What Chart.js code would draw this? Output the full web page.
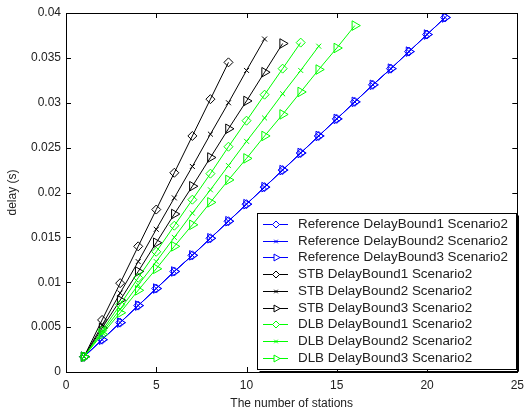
<!DOCTYPE html>
<html>
<head>
<meta charset="utf-8">
<script src="https://cdn.jsdelivr.net/npm/chart.js@4/dist/chart.umd.min.js"></script>
<style>
  html, body { margin: 0; padding: 0; background: #fff; }
</style>
</head>
<body>
<canvas id="delayChart" width="530" height="411"></canvas>
<script>
//================= Data =================//
var stations = [1, 2, 3, 4, 5, 6, 7, 8, 9, 10, 11, 12, 13, 14, 15, 16, 17, 18, 19, 20, 21];

var refBound1 = [0.0017, 0.0036, 0.0055, 0.0074, 0.0093, 0.0112, 0.0130, 0.0149, 0.0168, 0.0187, 0.0206,
                 0.0225, 0.0244, 0.0263, 0.0282, 0.0301, 0.0320, 0.0338, 0.0357, 0.0376, 0.0395];
var refBound2 = [0.0017, 0.0036, 0.0055, 0.0074, 0.0093, 0.0112, 0.0130, 0.0149, 0.0168, 0.0187, 0.0206,
                 0.0225, 0.0244, 0.0263, 0.0282, 0.0301, 0.0320, 0.0338, 0.0357, 0.0376, 0.0395];
var refBound3 = [0.0017, 0.0036, 0.0055, 0.0074, 0.0093, 0.0112, 0.0130, 0.0149, 0.0168, 0.0187, 0.0206,
                 0.0225, 0.0244, 0.0263, 0.0282, 0.0301, 0.0320, 0.0338, 0.0357, 0.0376, 0.0395];
var stbBound1 = [0.0017, 0.0058, 0.0099, 0.0140, 0.0181, 0.0222, 0.0263, 0.0304, 0.0345];
var stbBound2 = [0.0017, 0.0052, 0.0088, 0.0123, 0.0159, 0.0194, 0.0229, 0.0265, 0.0300, 0.0336, 0.0371];
var stbBound3 = [0.0017, 0.0049, 0.0080, 0.0112, 0.0144, 0.0176, 0.0207, 0.0239, 0.0271, 0.0302, 0.0334, 0.0366];
var dlbBound1 = [0.0017, 0.0046, 0.0075, 0.0105, 0.0134, 0.0163, 0.0192, 0.0221, 0.0251, 0.0280, 0.0309,
                 0.0338, 0.0367];
var dlbBound2 = [0.0017, 0.0044, 0.0070, 0.0097, 0.0123, 0.0150, 0.0177, 0.0203, 0.0230, 0.0257, 0.0283,
                 0.0310, 0.0336, 0.0363];
var dlbBound3 = [0.0017, 0.0042, 0.0066, 0.0091, 0.0115, 0.0140, 0.0164, 0.0189, 0.0214, 0.0238, 0.0263,
                 0.0287, 0.0312, 0.0337, 0.0361, 0.0386];

var seriesNames = [
  'Reference DelayBound1 Scenario2', 'Reference DelayBound2 Scenario2', 'Reference DelayBound3 Scenario2',
  'STB DelayBound1 Scenario2', 'STB DelayBound2 Scenario2', 'STB DelayBound3 Scenario2',
  'DLB DelayBound1 Scenario2', 'DLB DelayBound2 Scenario2', 'DLB DelayBound3 Scenario2'
];
var seriesValues = [refBound1, refBound2, refBound3, stbBound1, stbBound2, stbBound3, dlbBound1, dlbBound2, dlbBound3];

var xTicks = [0, 5, 10, 15, 20, 25];
var yTicks = [0, 0.005, 0.01, 0.015, 0.02, 0.025, 0.03, 0.035, 0.04];

//================= Styles =================//
var colors = ['#0000ff', '#0000ff', '#0000ff', '#000000', '#000000', '#000000', '#00ff00', '#00ff00', '#00ff00'];
var markers = [
  { style: 'rectRot', radius: 4.5, legendRadius: 3.5, rotation: 0 },
  { style: 'crossRot', radius: 3.5, legendRadius: 2.5, rotation: 0 },
  { style: 'triangle', radius: 5.5, legendRadius: 4, rotation: 90 }
];
var FONT = 'Liberation Sans, Arial, sans-serif';

function toPoints(values) {
  var pts = [];
  for (var i = 0; i < values.length; i++) {
    pts.push({ x: stations[i], y: values[i] });
  }
  return pts;
}

var datasets = [];
for (var i = 0; i < seriesValues.length; i++) {
  var m = markers[i % 3];
  datasets.push({
    label: seriesNames[i],
    data: toPoints(seriesValues[i]),
    borderColor: colors[i],
    borderWidth: 1,
    pointStyle: m.style,
    pointRadius: m.radius,
    pointRotation: m.rotation,
    pointBorderColor: colors[i],
    pointBackgroundColor: 'rgba(0,0,0,0)',
    pointBorderWidth: 1,
    legendRadius: m.legendRadius,
    order: seriesValues.length - i,
    tension: 0
  });
}

//================= Plugins =================//
// white page background
var whiteBg = {
  id: 'whiteBg',
  beforeDraw: function (chart) {
    var c = chart.ctx;
    c.save();
    c.fillStyle = '#fff';
    c.fillRect(0, 0, chart.width, chart.height);
    c.restore();
  }
};

// matlab style box with ticks pointing inwards on all four sides
var axesBox = {
  id: 'axesBox',
  afterDatasetsDraw: function (chart) {
    var c = chart.ctx, a = chart.chartArea;
    var xs = chart.scales.x, ys = chart.scales.y;
    var len = 5;
    c.save();
    c.strokeStyle = '#000';
    c.lineWidth = 1;
    c.beginPath();
    xTicks.forEach(function (t) {
      var px = Math.round(xs.getPixelForValue(t)) + 0.5;
      c.moveTo(px, a.bottom); c.lineTo(px, a.bottom - len);
      c.moveTo(px, a.top); c.lineTo(px, a.top + len);
    });
    yTicks.forEach(function (t) {
      var py = Math.round(ys.getPixelForValue(t)) + 0.5;
      c.moveTo(a.left, py); c.lineTo(a.left + len, py);
      c.moveTo(a.right, py); c.lineTo(a.right - len, py);
    });
    c.stroke();
    c.strokeRect(Math.round(a.left) + 0.5, Math.round(a.top) + 0.5,
                 Math.round(a.right - a.left), Math.round(a.bottom - a.top));
    c.restore();
  }
};

// legend drawn inside the axes, lower right corner
var insideLegend = {
  id: 'insideLegend',
  afterDraw: function (chart) {
    var c = chart.ctx;
    var box = { left: 257.5, top: 213.5, right: 516.5, bottom: 369.5 };
    var rowH = 16.7, firstRow = 224;
    c.save();
    c.fillStyle = '#fff';
    c.fillRect(box.left, box.top, box.right - box.left, box.bottom - box.top);
    c.strokeStyle = '#000';
    c.lineWidth = 1;
    c.strokeRect(box.left, box.top, box.right - box.left, box.bottom - box.top);
    // shadow edge
    c.beginPath();
    c.moveTo(box.right + 2, box.top + 2);
    c.lineTo(box.right + 2, box.bottom + 2);
    c.lineTo(box.left + 2, box.bottom + 2);
    c.stroke();

    c.font = '13.4px ' + FONT;
    c.textBaseline = 'middle';
    chart.data.datasets.forEach(function (ds, k) {
      var y = Math.round(firstRow + k * rowH) + 0.5;
      c.strokeStyle = ds.borderColor;
      c.lineWidth = 1;
      c.beginPath();
      c.moveTo(263, y);
      c.lineTo(288, y);
      c.stroke();
      c.fillStyle = '#fff';
      Chart.helpers.drawPoint(c, {
        pointStyle: ds.pointStyle,
        radius: ds.legendRadius,
        rotation: ds.pointRotation,
        borderWidth: 1
      }, 276, y);
      c.fillStyle = '#222';
      c.fillText(ds.label, 298, y);
    });
    c.restore();
  }
};

//================= Chart =================//
var ctx = document.getElementById('delayChart').getContext('2d');
var delayChart = new Chart(ctx, {
  type: 'line',
  data: { datasets: datasets },
  options: {
    responsive: false,
    animation: false,
    layout: { padding: { top: 13, right: 11, left: 0, bottom: 0 } },
    plugins: {
      legend: { display: false },
      tooltip: { enabled: false }
    },
    scales: {
      x: {
        type: 'linear',
        min: 0,
        max: 25,
        afterBuildTicks: function (s) { s.ticks = xTicks.map(function (v) { return { value: v }; }); },
        afterFit: function (s) { s.height = 39; },
        grid: { display: false, drawTicks: false },
        border: { display: false },
        ticks: { color: '#222', font: { family: FONT, size: 12 }, padding: 6, maxRotation: 0 },
        title: { display: true, text: 'The number of stations', color: '#222',
                 font: { family: FONT, size: 12 }, padding: { top: 1, bottom: 0 } }
      },
      y: {
        type: 'linear',
        min: 0,
        max: 0.04,
        afterBuildTicks: function (s) { s.ticks = yTicks.map(function (v) { return { value: v }; }); },
        afterFit: function (s) { s.width = 66; },
        grid: { display: false, drawTicks: false },
        border: { display: false },
        ticks: {
          color: '#222', font: { family: FONT, size: 12 }, padding: 5,
          callback: function (v) { return String(+v.toFixed(3)); }
        },
        title: { display: true, text: 'delay (s)', color: '#222',
                 font: { family: FONT, size: 12 }, padding: { top: 5, bottom: 0 } }
      }
    }
  },
  plugins: [whiteBg, axesBox, insideLegend]
});
</script>
</body>
</html>
